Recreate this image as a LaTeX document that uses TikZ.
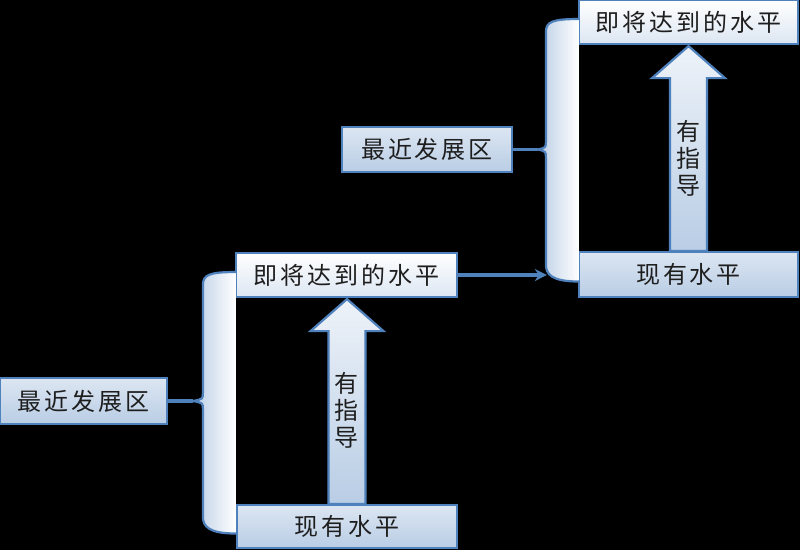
\documentclass[tikz,border=0pt]{standalone}
\usepackage{fontspec}
\setmainfont{Noto Sans CJK SC}[LetterSpace=12]
\usetikzlibrary{arrows.meta, calc}

\definecolor{edgeblue}{HTML}{4F81BD}
\definecolor{paleblue}{HTML}{DCE6F2}
\definecolor{midblue}{HTML}{B9CDE5}
\definecolor{inkgray}{HTML}{1E1E1E}

% brace on the left of a goal/now pair, #3 = nub coordinate
\newcommand{\zonebrace}[3]{%
  \path[brc] let \p1=(#1.west), \p2=(#2.west), \p3=(#3) in
    (\x1+1pt,\y1+3pt) .. controls (\x1-26pt,\y1+3pt) and (\x1-32pt,\y1) .. (\x1-32pt,\y1-10pt)
    -- (\x1-32pt,\y3+8pt) .. controls (\x1-32pt,\y3+2pt) .. (\x3,\y3)
    .. controls (\x1-32pt,\y3-2pt) .. (\x1-32pt,\y3-8pt)
    -- (\x1-32pt,\y2+10pt) .. controls (\x1-32pt,\y2) and (\x1-26pt,\y2-7pt) .. (\x1+1pt,\y2-7pt);}

% wide up arrow from #1 to #2
\newcommand{\guidearrow}[2]{%
  \path[blk] let \p1=(#1.north), \p2=(#2.south) in
    (\x1-18.5pt,\y1) -- (\x1-18.5pt,\y2-33pt) -- (\x1-36.5pt,\y2-33pt)
    -- (\x1,\y2-1pt) -- (\x1+36.5pt,\y2-33pt) -- (\x1+18.5pt,\y2-33pt)
    -- (\x1+18.5pt,\y1) -- cycle;}

\begin{document}
\begin{tikzpicture}[
  x=1pt, y=-1pt,
  lvl/.style={draw=edgeblue, line width=2.2pt, text=inkgray,
              font=\fontsize{24pt}{28pt}\selectfont, inner sep=0pt},
  goal/.style={lvl, top color=white, bottom color=paleblue},
  now/.style={lvl, top color=paleblue, bottom color=midblue},
  brc/.style={draw=edgeblue, line width=2.2pt, left color=midblue, right color=white},
  blk/.style={draw=edgeblue, line width=2.2pt, top color=white!50!paleblue, bottom color=midblue},
  conn/.style={draw=edgeblue, line width=3.4pt},
  tip/.style={-{Stealth[length=12pt, width=12pt]}},
  note/.style={font=\fontsize{24pt}{27pt}\selectfont, text=inkgray, align=center},
]
\useasboundingbox (0,0) rectangle (800,550);
\fill[black] (0,0) rectangle (800,550);

% first step
\node[now, minimum width=167pt, minimum height=46pt] (zone1) at (83.5,401) {最近发展区};
\node[goal, minimum width=221pt, minimum height=44pt] (goal1) at (346.5,275) {即将达到的水平};
\node[now, minimum width=220pt, minimum height=43pt] (now1) at (347,526.5) {现有水平};
\coordinate (nub1) at ($(zone1.east)+(25,0)$);
\zonebrace{goal1}{now1}{nub1}
\guidearrow{now1}{goal1}
\node[note] (help1) at ($(now1.north)!0.5!(goal1.south)+(0,9)$) {有\\指\\导};
\draw[conn] (zone1.east) -- (nub1);

% second step
\node[now, minimum width=170pt, minimum height=45pt] (zone2) at (427,149.5) {最近发展区};
\node[goal, minimum width=219pt, minimum height=44pt] (goal2) at (688.5,22) {即将达到的水平};
\node[now, minimum width=219pt, minimum height=45pt] (now2) at (688.5,274.5) {现有水平};
\coordinate (nub2) at ($(zone2.east)+(25,0)$);
\zonebrace{goal2}{now2}{nub2}
\guidearrow{now2}{goal2}
\node[note] (help2) at ($(now2.north)!0.5!(goal2.south)+(0,10)$) {有\\指\\导};
\draw[conn] (zone2.east) -- (nub2);

% step to step
\coordinate (entry2) at ($(now2.west)+(-31,0)$);
\draw[conn, tip] (goal1.east) -- (goal1.east -| entry2);
\end{tikzpicture}
\end{document}
